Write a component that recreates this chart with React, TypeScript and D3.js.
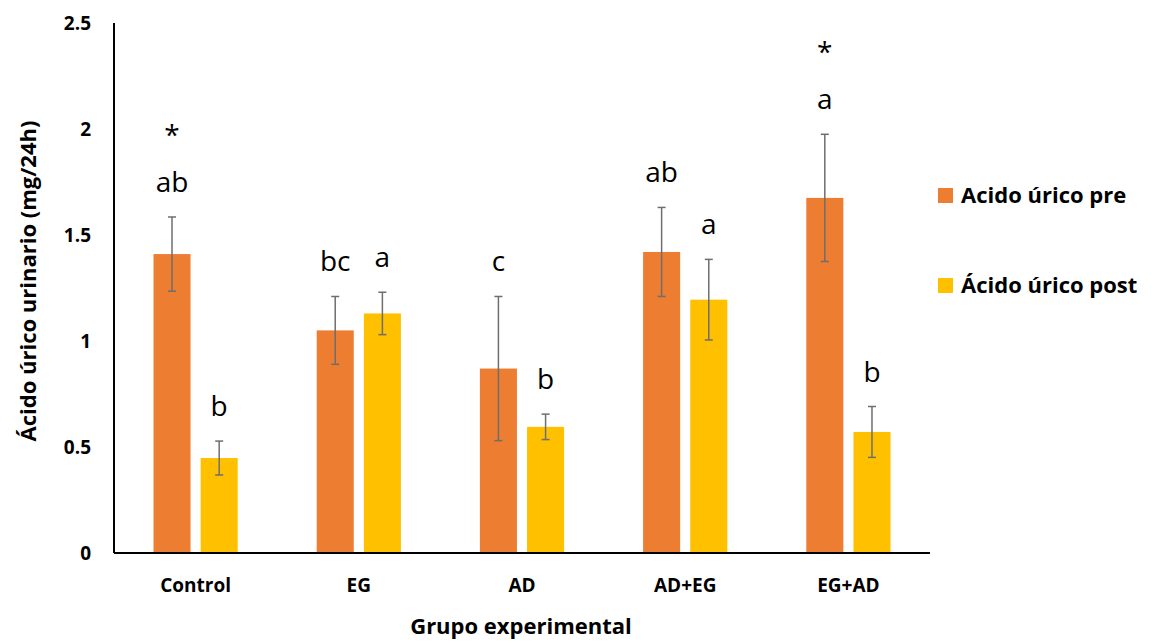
import React from "react";
import * as d3 from "d3";

// Grupos experimentales y valores medios de ácido úrico urinario (mg/24h)
const groups = ["Control", "EG", "AD", "AD+EG", "EG+AD"];
const seriesNames = ["Acido úrico pre", "Ácido úrico post"];
const preValues = [1.41, 1.05, 0.87, 1.42, 1.675];
const postValues = [0.448, 1.13, 0.595, 1.195, 0.571];
const preErrors = [0.175, 0.16, 0.34, 0.21, 0.3];
const postErrors = [0.08, 0.1, 0.06, 0.19, 0.12];
const preLetters = ["ab", "bc", "c", "ab", "a"];
const postLetters = ["b", "a", "b", "a", "b"];
const preStars = [true, false, false, false, true];
const yTicks = [0, 0.5, 1, 1.5, 2, 2.5];

const W = 1153;
const H = 643;
const margin = { left: 114, right: 223, top: 23, bottom: 90 };
const colors = ["#ED7D31", "#FFC000"];
const font = "'Open Sans', sans-serif";

export default function App() {
  const x0 = d3
    .scaleBand<string>()
    .domain(groups)
    .range([margin.left, W - margin.right])
    .paddingInner(0)
    .paddingOuter(0);
  const y = d3
    .scaleLinear()
    .domain([0, 2.5])
    .range([H - margin.bottom, margin.top]);

  const bw = x0.bandwidth();
  const barW = bw * 0.227;
  const gap = bw * 0.062;

  const series = [
    { values: preValues, errors: preErrors, letters: preLetters, stars: preStars },
    { values: postValues, errors: postErrors, letters: postLetters, stars: groups.map(() => false) },
  ];

  const barX = (g: string, s: number) => {
    const c = (x0(g) as number) + bw / 2;
    return s === 0 ? c - gap / 2 - barW : c + gap / 2;
  };

  const y0 = y(0);
  const capW = 8;

  return (
    <svg
      width={W}
      height={H}
      style={{ position: "absolute", left: 0, top: 0, background: "#fff" }}
      fontFamily={font}
    >
      {/* barras */}
      {series.map((s, si) =>
        groups.map((g, gi) => (
          <rect
            key={`b${si}-${gi}`}
            x={barX(g, si)}
            y={y(s.values[gi])}
            width={barW}
            height={y0 - y(s.values[gi])}
            fill={colors[si]}
          />
        ))
      )}

      {/* barras de error */}
      {series.map((s, si) =>
        groups.map((g, gi) => {
          const cx = barX(g, si) + barW / 2;
          const hi = y(s.values[gi] + s.errors[gi]);
          const lo = y(s.values[gi] - s.errors[gi]);
          return (
            <g key={`e${si}-${gi}`} stroke="#6e6e6e" strokeWidth={1.5}>
              <line x1={cx} x2={cx} y1={hi} y2={lo} />
              <line x1={cx - capW / 2} x2={cx + capW / 2} y1={hi} y2={hi} />
              <line x1={cx - capW / 2} x2={cx + capW / 2} y1={lo} y2={lo} />
            </g>
          );
        })
      )}

      {/* letras de significancia */}
      {series.map((s, si) =>
        groups.map((g, gi) => {
          const cx = barX(g, si) + barW / 2;
          const top = y(s.values[gi] + s.errors[gi]);
          const base = top - 25;
          return (
            <g key={`l${si}-${gi}`} fontSize={28} textAnchor="middle" fill="#000">
              <text x={cx} y={base}>
                {s.letters[gi]}
              </text>
              {s.stars[gi] && (
                <text x={cx} y={base - 47}>
                  *
                </text>
              )}
            </g>
          );
        })
      )}

      {/* ejes */}
      <line x1={margin.left} x2={margin.left} y1={margin.top} y2={y0} stroke="#000" strokeWidth={2} />
      <line x1={margin.left} x2={W - margin.right} y1={y0} y2={y0} stroke="#000" strokeWidth={2} />

      {yTicks.map((t) => (
        <text
          key={`yt${t}`}
          x={91}
          y={y(t)}
          dy="0.35em"
          textAnchor="end"
          fontSize={19}
          fontWeight="bold"
        >
          {t}
        </text>
      ))}

      {groups.map((g) => (
        <text
          key={`xt${g}`}
          x={(x0(g) as number) + bw / 2}
          y={592}
          textAnchor="middle"
          fontSize={19}
          fontWeight="bold"
        >
          {g}
        </text>
      ))}

      <text x={521} y={634} textAnchor="middle" fontSize={22} fontWeight="bold">
        Grupo experimental
      </text>
      <text
        transform={`translate(36, 281) rotate(-90)`}
        textAnchor="middle"
        fontSize={22}
        fontWeight="bold"
      >
        Ácido úrico urinario (mg/24h)
      </text>

      {/* leyenda */}
      {seriesNames.map((n, i) => (
        <g key={`lg${i}`} transform={`translate(938, ${188 + i * 90})`}>
          <rect x={0} y={0} width={15} height={15} fill={colors[i]} />
          <text x={23} y={15} fontSize={22} fontWeight="bold">
            {n}
          </text>
        </g>
      ))}
    </svg>
  );
}
